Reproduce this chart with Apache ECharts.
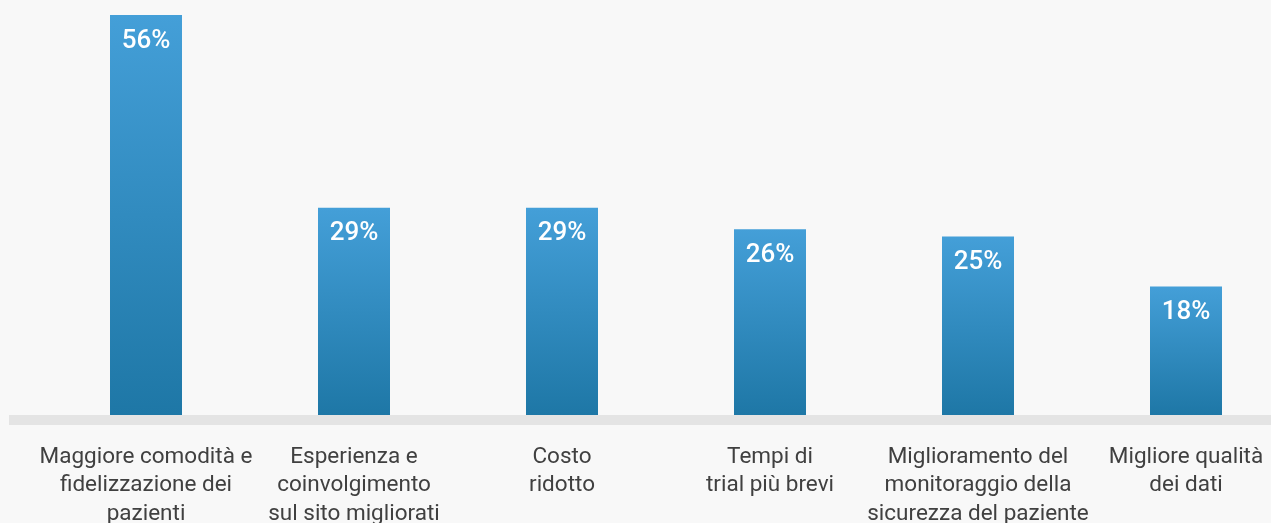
<!DOCTYPE html>
<html><head><meta charset="utf-8">
<script src="https://cdn.jsdelivr.net/npm/echarts@6/dist/echarts.min.js"></script>
<style>html,body{margin:0;padding:0;background:#f8f8f8;}#c{width:1271px;height:523px;}</style>
</head><body><div id="c"></div>
<script>
const categories = [
  "Maggiore comodità e\nfidelizzazione dei\npazienti",
  "Esperienza e\ncoinvolgimento\nsul sito migliorati",
  "Costo\nridotto",
  "Tempi di\ntrial più brevi",
  "Miglioramento del\nmonitoraggio della\nsicurezza del paziente",
  "Migliore qualità\ndei dati"
];
const values = [56, 29, 29, 26, 25, 18];

const chart = echarts.init(document.getElementById('c'), null, {renderer: 'canvas'});
chart.setOption({
  backgroundColor: '#f8f8f8',
  animation: false,
  grid: [
    {left: 42, right: -19, top: 15, bottom: 108, containLabel: false, outerBoundsMode: 'none'},
    {left: 9, right: -10, top: 15, bottom: 103, containLabel: false, outerBoundsMode: 'none'}
  ],
  xAxis: [
    {
      type: 'category', gridIndex: 0, data: categories,
      axisLine: {show: false}, axisTick: {show: false},
      axisLabel: {
        interval: 0, margin: 28, color: '#404040',
        fontFamily: 'Roboto', fontSize: 22.5, lineHeight: 28.5, align: 'center'
      }
    },
    {
      type: 'category', gridIndex: 1, data: [''],
      axisLine: {show: true, lineStyle: {color: '#e4e4e4', width: 10, cap: 'butt'}},
      axisTick: {show: false}, axisLabel: {show: false}
    }
  ],
  yAxis: [
    {type: 'value', gridIndex: 0, min: 0, max: 56, show: false},
    {type: 'value', gridIndex: 1, show: false}
  ],
  series: [{
    type: 'bar', xAxisIndex: 0, yAxisIndex: 0,
    data: values, barWidth: 72,
    itemStyle: {
      color: new echarts.graphic.LinearGradient(0, 0, 0, 1, [
        {offset: 0, color: '#449fd8'},
        {offset: 1, color: '#1e77a6'}
      ])
    },
    label: {
      show: true, position: 'insideTop', distance: 13,
      formatter: '{c}%', color: '#ffffff',
      fontFamily: 'Roboto', fontSize: 26, fontWeight: 500
    }
  }]
});
</script></body></html>
